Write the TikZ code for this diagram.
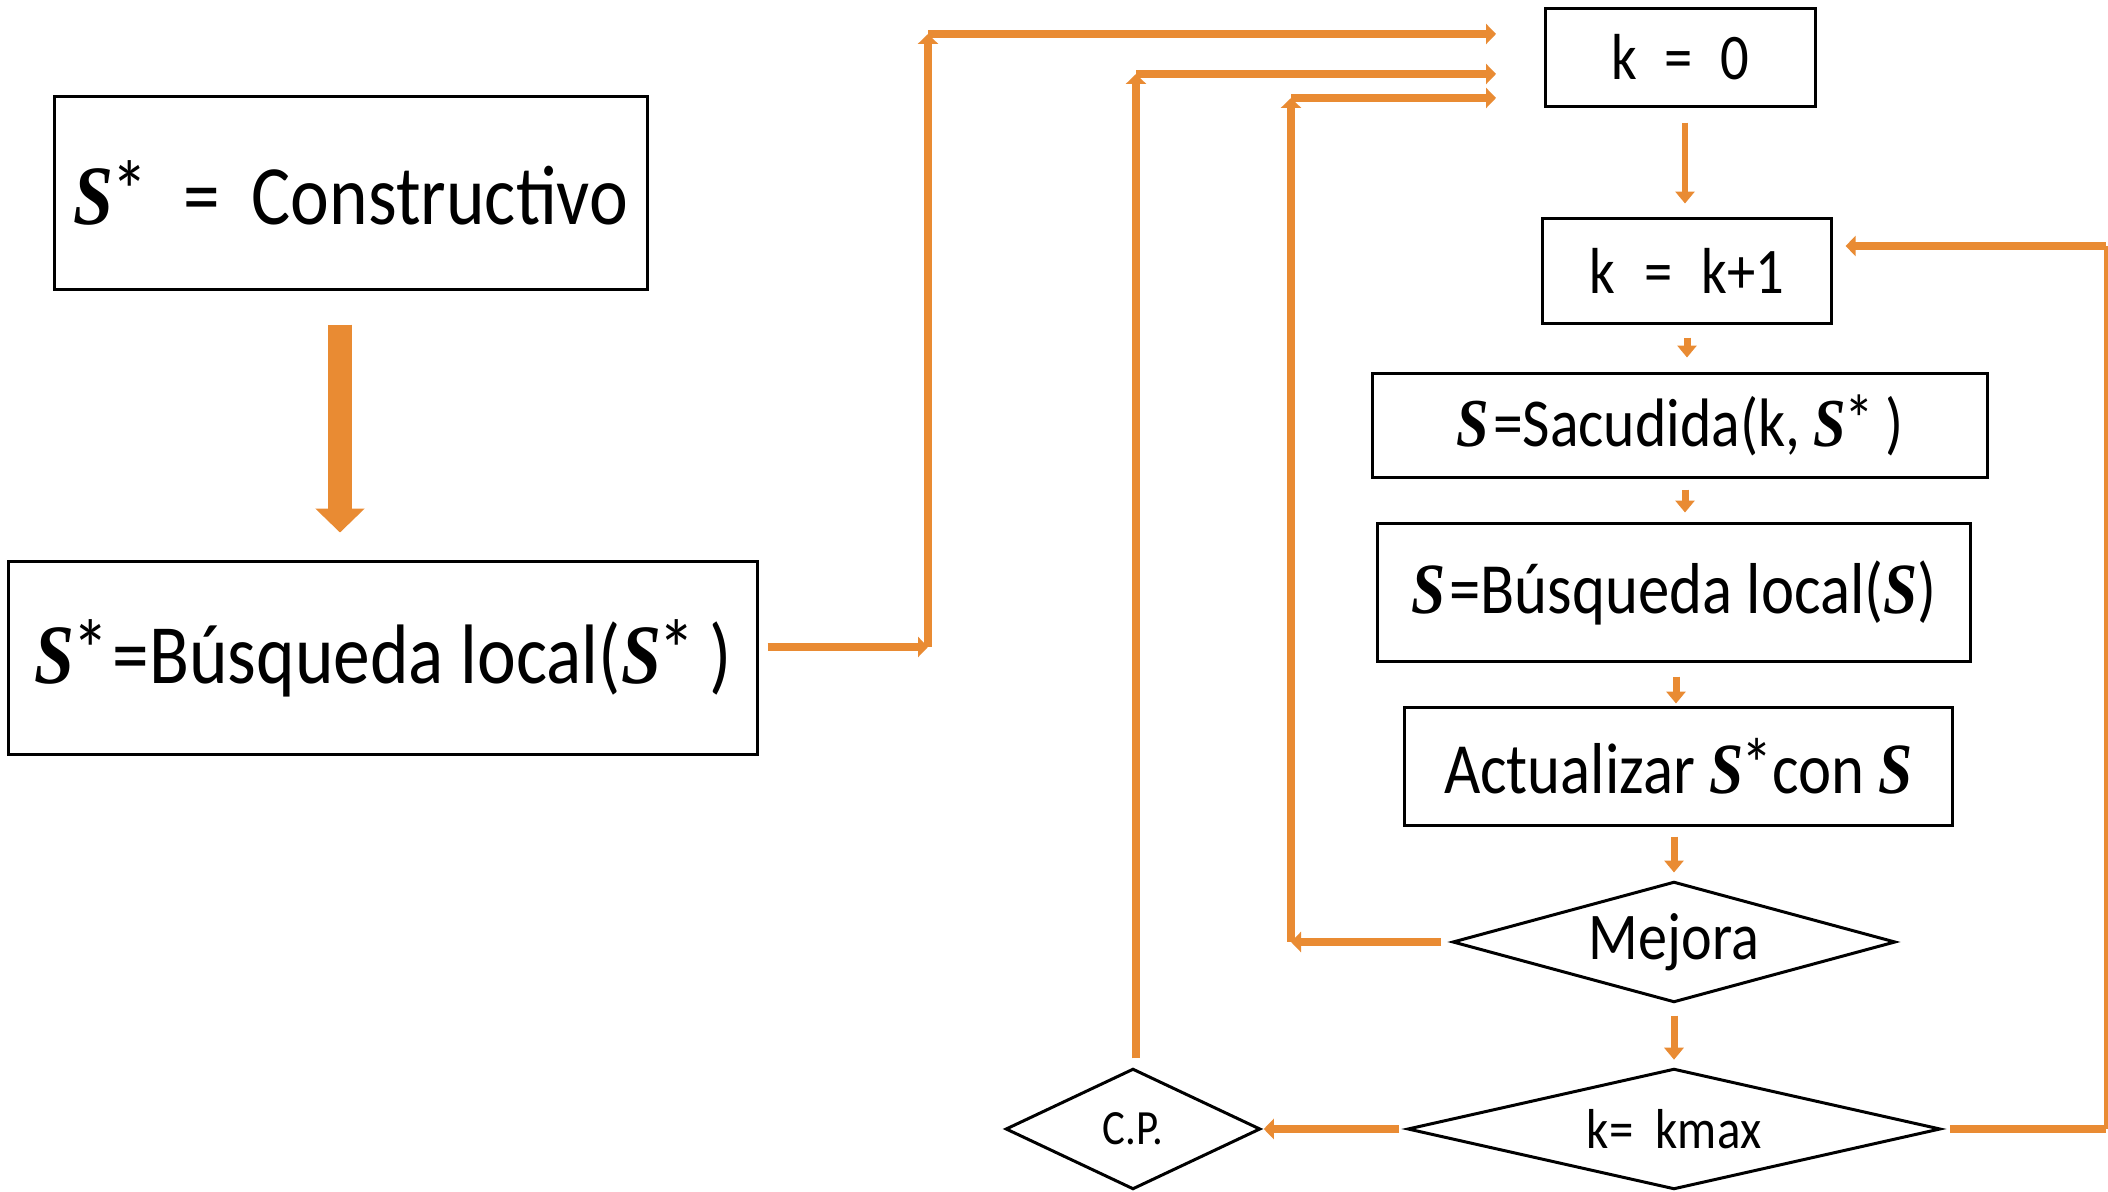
\documentclass[tikz,border=0pt]{standalone}
\usepackage{fontspec}
\setmainfont{Carlito}[FakeStretch=0.87]
\newfontfamily\sfnt{Liberation Serif}[FakeStretch=0.85]
\usetikzlibrary{arrows.meta,calc}
\definecolor{org}{RGB}{233,139,51}
\newcommand{\Sv}{{\sfnt\bfseries\itshape S}}
\newcommand{\Sst}{\Sv\kern-0.03em\raisebox{0.05em}{*}}
\begin{document}
\begin{tikzpicture}[x=0.01cm,y=-0.01cm,
  box/.style={draw=black, line width=0.03cm, inner sep=0pt, anchor=center},
  dia/.style={inner sep=0pt, anchor=center},
  dline/.style={draw=black, line width=0.03cm, line join=miter},
  conn/.style={draw=org, line width=0.075cm, -{Triangle[width=0.2cm,length=0.1cm]}},
  plainc/.style={draw=org, line width=0.075cm},
  sarr/.style={draw=org, line width=0.07cm, -{Triangle[width=0.19cm,length=0.12cm]}},
  bigarr/.style={draw=org, line width=0.24cm, -{Triangle[width=0.48cm,length=0.24cm]}}]
\useasboundingbox (0,0) rectangle (2108,1192);
\fill[white] (0,0) rectangle (2108,1192);

% left column
\node[box, minimum width=5.92cm, minimum height=1.92cm, font=\fontsize{24}{28}\selectfont] (A) at (351,193) {\Sst\hspace{0.42em}=\hspace{0.38em}Constructivo};
\node[box, minimum width=7.48cm, minimum height=1.92cm, font=\fontsize{24}{28}\selectfont] (B) at (383,658) {\Sst\kern0.05em=Búsqueda local(\Sst\,)};
\draw[bigarr] ($(A.south)+(-11,34)$) -- ($(A.south)+(-11,242)$);

% right column
\node[box, minimum width=2.69cm, minimum height=0.97cm, font=\fontsize{18.5}{22}\selectfont] (k0) at (1680.5,57.5) {k\hspace{0.42em}=\hspace{0.42em}0};
\node[box, minimum width=2.88cm, minimum height=1.04cm, font=\fontsize{18.5}{22}\selectfont] (k1) at (1687,271) {k\hspace{0.45em}=\hspace{0.45em}k+1};
\node[box, minimum width=6.14cm, minimum height=1.03cm, font=\fontsize{19.5}{23}\selectfont] (sac) at (1680,425.5) {\Sv\kern0.06em=Sacudida(k, \Sst\,)};
\node[box, minimum width=5.92cm, minimum height=1.37cm, font=\fontsize{20.5}{24}\selectfont] (bus) at (1674,592.5) {\Sv\kern0.06em=Búsqueda local(\Sv)};
\node[box, minimum width=5.47cm, minimum height=1.17cm, font=\fontsize{20.5}{24}\selectfont] (act) at (1678.5,766.5) {Actualizar \Sst con \Sv};

\node[dia, minimum width=4.4cm, minimum height=1.18cm, font=\fontsize{19}{23}\selectfont] (mej) at (1674,942) {Mejora};
\draw[dline] (mej.north) -- (mej.east) -- (mej.south) -- (mej.west) -- cycle;
\node[dia, minimum width=5.3cm, minimum height=1.18cm, font=\fontsize{16}{20}\selectfont] (kmax) at (1674,1129) {k= \ kmax};
\draw[dline] (kmax.north) -- (kmax.east) -- (kmax.south) -- (kmax.west) -- cycle;
\node[dia, minimum width=2.52cm, minimum height=1.18cm, font=\fontsize{14}{18}\selectfont] (cp) at (1133,1129) {C.P.};
\draw[dline] (cp.north) -- (cp.east) -- (cp.south) -- (cp.west) -- cycle;

% column arrows
\draw[sarr, line width=0.06cm] ($(k0.south)+(4.5,15)$) -- ($(k0.south)+(4.5,96)$);
\draw[sarr] ($(k1.south)+(0,13)$) -- ($(k1.south)+(0,33)$);
\draw[sarr] ($(sac.south)+(5,11)$) -- ($(sac.south)+(5,34)$);
\draw[sarr] ($(bus.south)+(2,14)$) -- ($(bus.south)+(2,41)$);
\draw[sarr] ($(act.south)+(-4.5,10)$) -- ($(act.south)+(-4.5,46)$);
\draw[sarr] ($(mej.south)+(0,14)$) -- ($(mej.south)+(0,58)$);

% loop coordinates
\coordinate (p1) at (928,647);
\coordinate (p2) at (928,34);
\coordinate (p3) at (1496,34);
\coordinate (q1) at (1136,74);
\coordinate (q2) at (1496,74);
\coordinate (r1) at (1291,942);
\coordinate (r2) at (1291,98);
\coordinate (r3) at (1496,98);
\coordinate (s1) at (2106,1129);
\coordinate (s2) at (2106,246);

\draw[conn, shorten <=0.09cm] (B.east |- p1) -- (p1);
\draw[conn] (p1) -- (p2);
\draw[conn] (p2) -- (p3);
\draw[conn, shorten <=0.11cm] (q1 |- cp.north) -- (q1);
\draw[conn] (q1) -- (q2);
\draw[conn, shorten <=0.12cm] (mej.west) -- (r1);
\draw[conn] (r1) -- (r2);
\draw[conn] (r2) -- (r3);
\draw[conn, shorten <=0.09cm, shorten >=0.04cm] (kmax.west) -- (cp.east);
\draw[plainc, shorten <=0.1cm] (kmax.east) -- (s1);
\draw[plainc, line width=0.05cm] (s1) -- (s2);
\draw[conn, shorten >=0.13cm] (s2) -- (s2 -| k1.east);
\end{tikzpicture}
\end{document}
